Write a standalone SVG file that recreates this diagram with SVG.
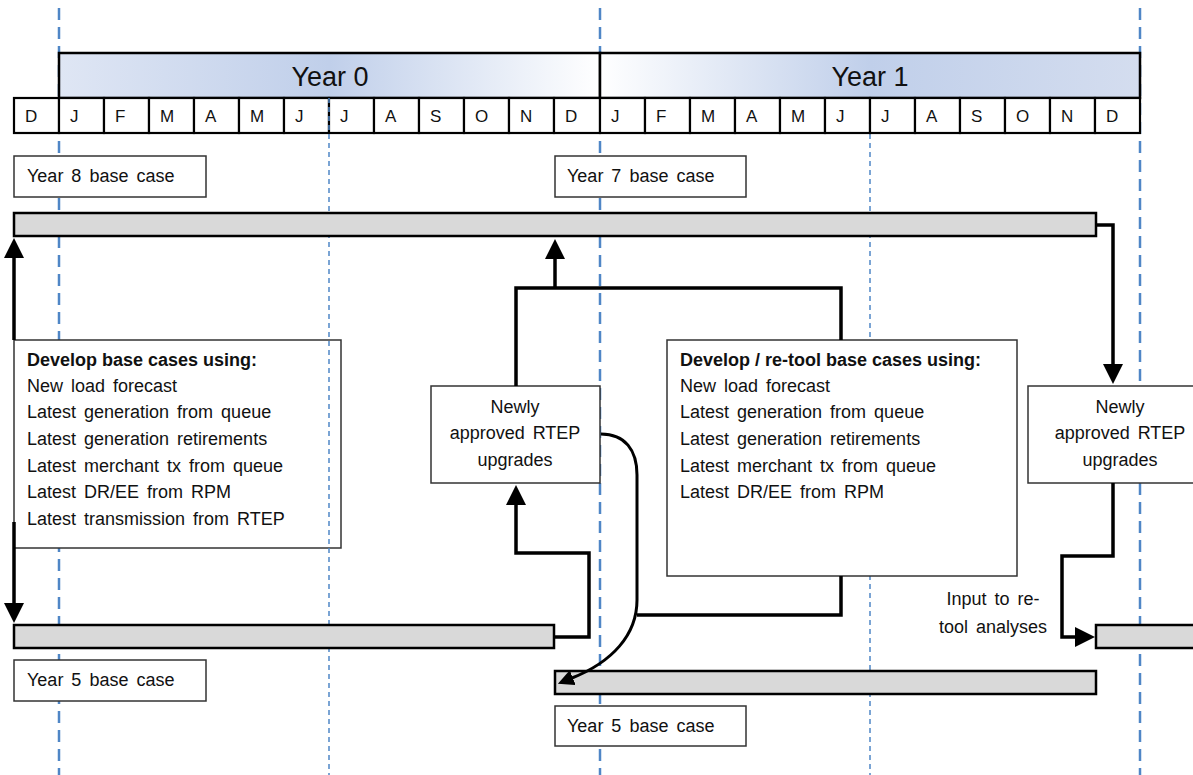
<svg xmlns="http://www.w3.org/2000/svg" width="1193" height="775" viewBox="0 0 1193 775">
<style>
.t{font-family:"Liberation Sans",Arial,sans-serif;font-size:18px;fill:#111;word-spacing:3px}
.b{font-weight:bold;word-spacing:0}
.m{font-family:"Liberation Sans",Arial,sans-serif;font-size:17px;fill:#111}
.yr{font-family:"Liberation Sans",Arial,sans-serif;font-size:27px;fill:#111;text-anchor:middle}
.box{fill:#fff;stroke:#333;stroke-width:1.5}
.bar{fill:#d9d9d9;stroke:#000;stroke-width:2.5}
.cell{fill:#fff;stroke:#000;stroke-width:2.2}
.gth{stroke:#4f86c6;stroke-width:2.5;stroke-dasharray:12 7;fill:none}
.gtn{stroke:#4f86c6;stroke-width:1.5;stroke-dasharray:5 4;fill:none}
.c{fill:none;stroke:#000;stroke-width:3.5;stroke-linejoin:miter}
</style>
<defs>
<linearGradient id="g0" x1="0" y1="0" x2="1" y2="0">
<stop offset="0" stop-color="#dfe6f4"/><stop offset="0.5" stop-color="#c0cfea"/><stop offset="1" stop-color="#ffffff"/>
</linearGradient>
<linearGradient id="g1" x1="0" y1="0" x2="1" y2="0">
<stop offset="0" stop-color="#ffffff"/><stop offset="0.5" stop-color="#c0cfea"/><stop offset="1" stop-color="#d4ddef"/>
</linearGradient>
<marker id="ah" viewBox="0 0 10 10" refX="0.5" refY="5" markerWidth="20" markerHeight="20" markerUnits="userSpaceOnUse" orient="auto"><path d="M0,0 L10,5 L0,10 z" fill="#000"/></marker>
<marker id="ah2" viewBox="0 0 10 10" refX="0.5" refY="5" markerWidth="16" markerHeight="16" markerUnits="userSpaceOnUse" orient="auto"><path d="M0,0 L10,5 L0,10 z" fill="#000"/></marker>
</defs>
<rect width="1193" height="775" fill="#fff"/>

<g id="grid-major">
<line class="gth" x1="59" y1="8" x2="59" y2="775"/>
<line class="gth" x1="600" y1="8" x2="600" y2="775"/>
<line class="gth" x1="1140" y1="8" x2="1140" y2="775"/>
<line class="gtn" x1="870" y1="98" x2="870" y2="775"/>
</g>

<g id="timeline">
<rect x="59" y="53" width="541" height="45" fill="url(#g0)" stroke="#000" stroke-width="2.5"/>
<rect x="600" y="53" width="540" height="45" fill="url(#g1)" stroke="#000" stroke-width="2.5"/>
<text class="yr" x="330" y="86">Year 0</text>
<text class="yr" x="870" y="86">Year 1</text>
<rect class="cell" x="14" y="98" width="45" height="35"/>
<text class="m" x="25" y="122">D</text>
<g>
<rect class="cell" x="59" y="98" width="45" height="35"/><text class="m" x="70" y="122">J</text>
<rect class="cell" x="104" y="98" width="45" height="35"/><text class="m" x="115" y="122">F</text>
<rect class="cell" x="149" y="98" width="45" height="35"/><text class="m" x="160" y="122">M</text>
<rect class="cell" x="194" y="98" width="45" height="35"/><text class="m" x="205" y="122">A</text>
<rect class="cell" x="239" y="98" width="45" height="35"/><text class="m" x="250" y="122">M</text>
<rect class="cell" x="284" y="98" width="45" height="35"/><text class="m" x="295" y="122">J</text>
<rect class="cell" x="329" y="98" width="45" height="35"/><text class="m" x="340" y="122">J</text>
<rect class="cell" x="374" y="98" width="45" height="35"/><text class="m" x="385" y="122">A</text>
<rect class="cell" x="419" y="98" width="45" height="35"/><text class="m" x="430" y="122">S</text>
<rect class="cell" x="464" y="98" width="45" height="35"/><text class="m" x="475" y="122">O</text>
<rect class="cell" x="509" y="98" width="45" height="35"/><text class="m" x="520" y="122">N</text>
<rect class="cell" x="554" y="98" width="46" height="35"/><text class="m" x="565" y="122">D</text>
</g>
<g>
<rect class="cell" x="600" y="98" width="45" height="35"/><text class="m" x="611" y="122">J</text>
<rect class="cell" x="645" y="98" width="45" height="35"/><text class="m" x="656" y="122">F</text>
<rect class="cell" x="690" y="98" width="45" height="35"/><text class="m" x="701" y="122">M</text>
<rect class="cell" x="735" y="98" width="45" height="35"/><text class="m" x="746" y="122">A</text>
<rect class="cell" x="780" y="98" width="45" height="35"/><text class="m" x="791" y="122">M</text>
<rect class="cell" x="825" y="98" width="45" height="35"/><text class="m" x="836" y="122">J</text>
<rect class="cell" x="870" y="98" width="45" height="35"/><text class="m" x="881" y="122">J</text>
<rect class="cell" x="915" y="98" width="45" height="35"/><text class="m" x="926" y="122">A</text>
<rect class="cell" x="960" y="98" width="45" height="35"/><text class="m" x="971" y="122">S</text>
<rect class="cell" x="1005" y="98" width="45" height="35"/><text class="m" x="1016" y="122">O</text>
<rect class="cell" x="1050" y="98" width="45" height="35"/><text class="m" x="1061" y="122">N</text>
<rect class="cell" x="1095" y="98" width="45" height="35"/><text class="m" x="1106" y="122">D</text>
</g>
</g>

<g id="develop-box">
<rect class="box" x="14" y="340" width="327" height="208"/>
<text class="t b" x="27" y="366">Develop base cases using:</text>
<text class="t" x="27" y="392">New load forecast</text>
<text class="t" x="27" y="418">Latest generation from queue</text>
<text class="t" x="27" y="445">Latest generation retirements</text>
<text class="t" x="27" y="472">Latest merchant tx from queue</text>
<text class="t" x="27" y="498">Latest DR/EE from RPM</text>
<text class="t" x="27" y="525">Latest transmission from RTEP</text>
</g>

<g id="grid-minor">
<line class="gtn" x1="329" y1="98" x2="329" y2="775"/>
</g>

<g id="year8-label"><rect class="box" x="14" y="156" width="192" height="41"/><text class="t" x="27" y="182">Year 8 base case</text></g>
<g id="year7-label"><rect class="box" x="555" y="156" width="191" height="41"/><text class="t" x="567" y="182">Year 7 base case</text></g>
<g id="year5-label-left"><rect class="box" x="14" y="660" width="192" height="41"/><text class="t" x="27" y="686">Year 5 base case</text></g>
<g id="year5-label-mid"><rect class="box" x="555" y="706" width="191" height="40"/><text class="t" x="567" y="732">Year 5 base case</text></g>

<g id="bar-top"><rect class="bar" x="14" y="213" width="1082" height="23"/></g>
<g id="bar-left"><rect class="bar" x="14" y="625" width="540" height="23"/></g>
<g id="bar-mid"><rect class="bar" x="555" y="671" width="541" height="23"/></g>
<g id="bar-right"><rect class="bar" x="1096" y="625" width="110" height="23"/></g>

<g id="rtep-left">
<rect class="box" x="431" y="386" width="169" height="97"/>
<text class="t" x="515" y="413" text-anchor="middle">Newly</text>
<text class="t" x="515" y="439" text-anchor="middle">approved RTEP</text>
<text class="t" x="515" y="466" text-anchor="middle">upgrades</text>
</g>

<g id="rtep-right">
<rect class="box" x="1028" y="386" width="180" height="97"/>
<text class="t" x="1120" y="413" text-anchor="middle">Newly</text>
<text class="t" x="1120" y="439" text-anchor="middle">approved RTEP</text>
<text class="t" x="1120" y="466" text-anchor="middle">upgrades</text>
</g>

<g id="retool-box">
<rect class="box" x="667" y="340" width="350" height="236"/>
<text class="t b" x="680" y="366">Develop / re-tool base cases using:</text>
<text class="t" x="680" y="392">New load forecast</text>
<text class="t" x="680" y="418">Latest generation from queue</text>
<text class="t" x="680" y="445">Latest generation retirements</text>
<text class="t" x="680" y="472">Latest merchant tx from queue</text>
<text class="t" x="680" y="498">Latest DR/EE from RPM</text>
</g>

<g id="retool-label">
<text class="t" x="993" y="605" text-anchor="middle">Input to re-</text>
<text class="t" x="993" y="633" text-anchor="middle">tool analyses</text>
</g>

<g id="connectors">
<path class="c" d="M14,340 L14,257" marker-end="url(#ah)"/>
<path class="c" d="M14,522 L14,604" marker-end="url(#ah)"/>
<path class="c" d="M1096,225 L1113,225 L1113,365" marker-end="url(#ah)"/>
<path class="c" d="M1113,483 L1113,556 L1062,556 L1062,637 L1076,637" marker-end="url(#ah)"/>
<path class="c" d="M555,637 L589,637 L589,553 L516,553 L516,504" marker-end="url(#ah)"/>
<path class="c" d="M516,386 L516,288 L841,288 L841,340"/>
<path class="c" d="M555,288 L555,258" marker-end="url(#ah)"/>
<path class="c" d="M841,576 L841,615 L637,615"/>
<path fill="none" stroke="#000" stroke-width="3" d="M601,434 C625,434 637,450 637,475 L637,600 C637,635 612,662 572,678" marker-end="url(#ah2)"/>
</g>
</svg>
